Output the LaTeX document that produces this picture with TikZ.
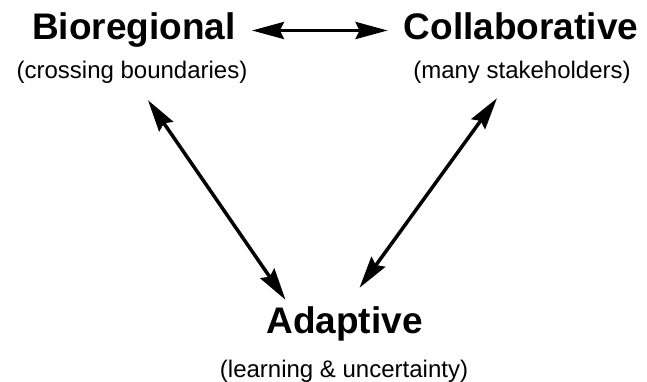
\documentclass[tikz,border=0pt]{standalone}
\usepackage{fontspec}
\setmainfont{Liberation Sans}
\usepackage{tikz}
\usetikzlibrary{arrows.meta}

\begin{document}
\begin{tikzpicture}[
		x=1pt, y=1pt,
		heading/.style={font=\fontsize{37}{40}\selectfont\bfseries, text height=27pt, text depth=8pt, inner xsep=16pt, inner ysep=0pt, anchor=base},
		subhead/.style={font=\fontsize{24}{28}\selectfont, inner sep=0pt, anchor=base},
		both/.style={line width=3.5pt, {Stealth[length=32pt,width=17pt,inset=4pt]}-{Stealth[length=32pt,width=17pt,inset=4pt]}}
	]
		\useasboundingbox (0,0) rectangle (647,381);
		% the three corners
		\node[heading] (bio) at (134,341) {Bioregional};
		\node[subhead] (bioSub) at (132,302) {(crossing boundaries)};
		\node[heading] (col) at (521,341) {Collaborative};
		\node[subhead] (colSub) at (522,302) {(many stakeholders)};
		\node[heading] (ada) at (344.5,48) {Adaptive};
		\node[subhead] (adaSub) at (344,4) {(learning \& uncertainty)};
		% links
		\draw[both] (bio.east) -- (col.west);
		\draw[both] ([xshift=16pt,yshift=-16pt]bioSub.south) -- ([xshift=-59pt,yshift=6pt]ada.north);
		\draw[both] ([xshift=-25pt,yshift=-14pt]colSub.south) -- ([xshift=15pt,yshift=18pt]ada.north);
	\end{tikzpicture}
\end{document}
